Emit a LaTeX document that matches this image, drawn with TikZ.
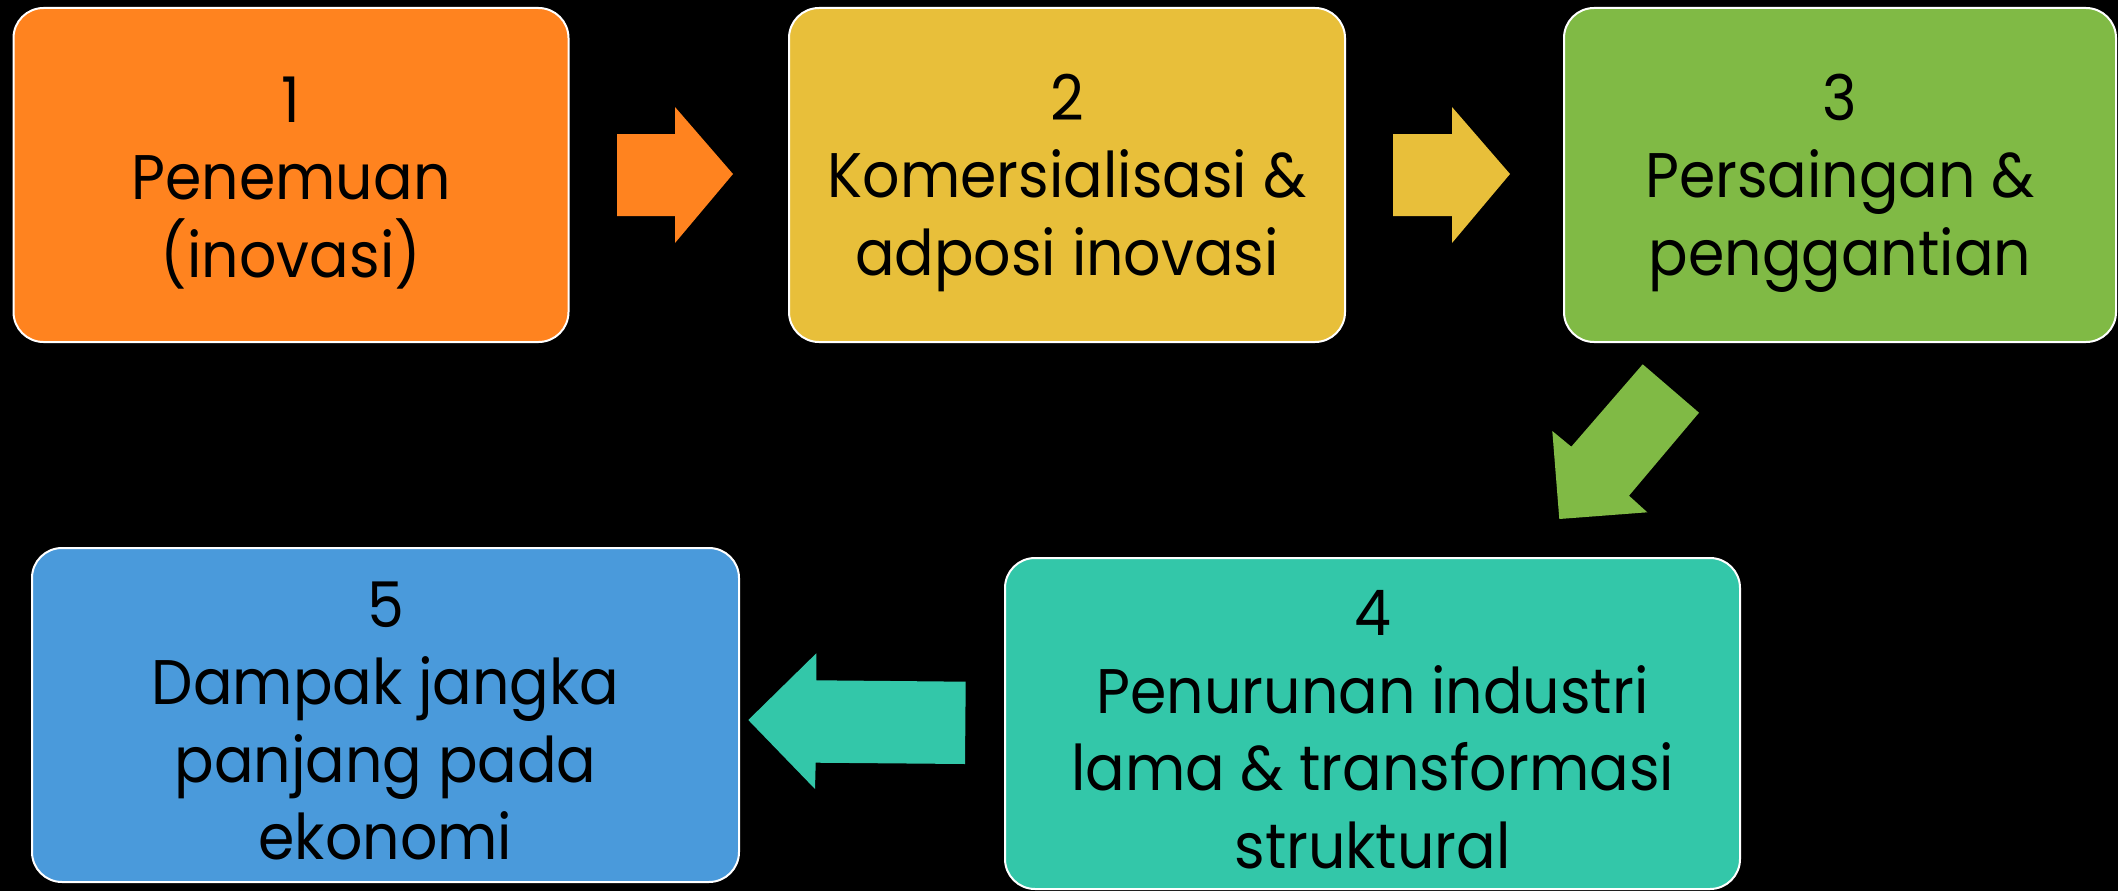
\documentclass[tikz,border=0pt]{standalone}
\usepackage{fontspec}
\setmainfont{Poppins}[FakeStretch=0.93]
\definecolor{c1}{HTML}{FF831F}
\definecolor{c2}{HTML}{E8BF3A}
\definecolor{c3}{HTML}{80BA45}
\definecolor{c4}{HTML}{33C7A9}
\definecolor{c5}{HTML}{4A9ADB}
\begin{document}
\begin{tikzpicture}[x=1pt,y=-1pt,
  box/.style={draw=white,line width=2pt,rounded corners=30pt,inner sep=0pt},
  txt/.style={align=center,text=black,font=\fontsize{63}{77.5}\selectfont,inner sep=0pt}]
\fill[black] (0,0) rectangle (2118,891);
\useasboundingbox (0,0) rectangle (2118,891);
\node[box,fill=c1,minimum width=555pt,minimum height=334pt] (b1) at (291,175) {};
\node[box,fill=c2,minimum width=556pt,minimum height=334pt] (b2) at (1067,175) {};
\node[box,fill=c3,minimum width=552pt,minimum height=334pt] (b3) at (1840,175) {};
\node[box,fill=c4,minimum width=735pt,minimum height=331pt] (b4) at (1372.5,723.5) {};
\node[box,fill=c5,minimum width=707pt,minimum height=334pt] (b5) at (385.5,715) {};
\node[txt] (t1) at ([yshift=-8pt]b1.center) {1\\Penemuan\\(inovasi)};
\node[txt] (t2) at ([yshift=-8pt]b2.center) {2\\Komersialisasi \&\\adposi inovasi};
\node[txt] (t3) at ([yshift=-8pt]b3.center) {3\\Persaingan \&\\penggantian};
\node[txt] (t4) at ([yshift=-6pt]b4.center) {4\\Penurunan industri\\lama \& transformasi\\struktural};
\node[txt] (t5) at ([yshift=-6pt]b5.center) {5\\Dampak jangka\\panjang pada\\ekonomi};
% block arrows
\fill[c1] (617,134) -- (675,134) -- (675,107) -- (733,174) -- (675,243) -- (675,216) -- (617,216) -- cycle;
\fill[c2] (1393,134) -- (1452,134) -- (1452,107) -- (1510,174) -- (1452,243) -- (1452,216) -- (1393,216) -- cycle;
\fill[c3] (1642.7,364.3) -- (1699,412.7) -- (1629,495.7) -- (1647.3,512.3) -- (1559.3,519) -- (1552.3,431) -- (1571.3,446.7) -- cycle;
\fill[c4] (965.7,681.7) -- (965,764) -- (815.7,762.7) -- (815,789) -- (748.3,720) -- (816.3,653.3) -- (816.3,680.3) -- cycle;
\end{tikzpicture}
\end{document}
